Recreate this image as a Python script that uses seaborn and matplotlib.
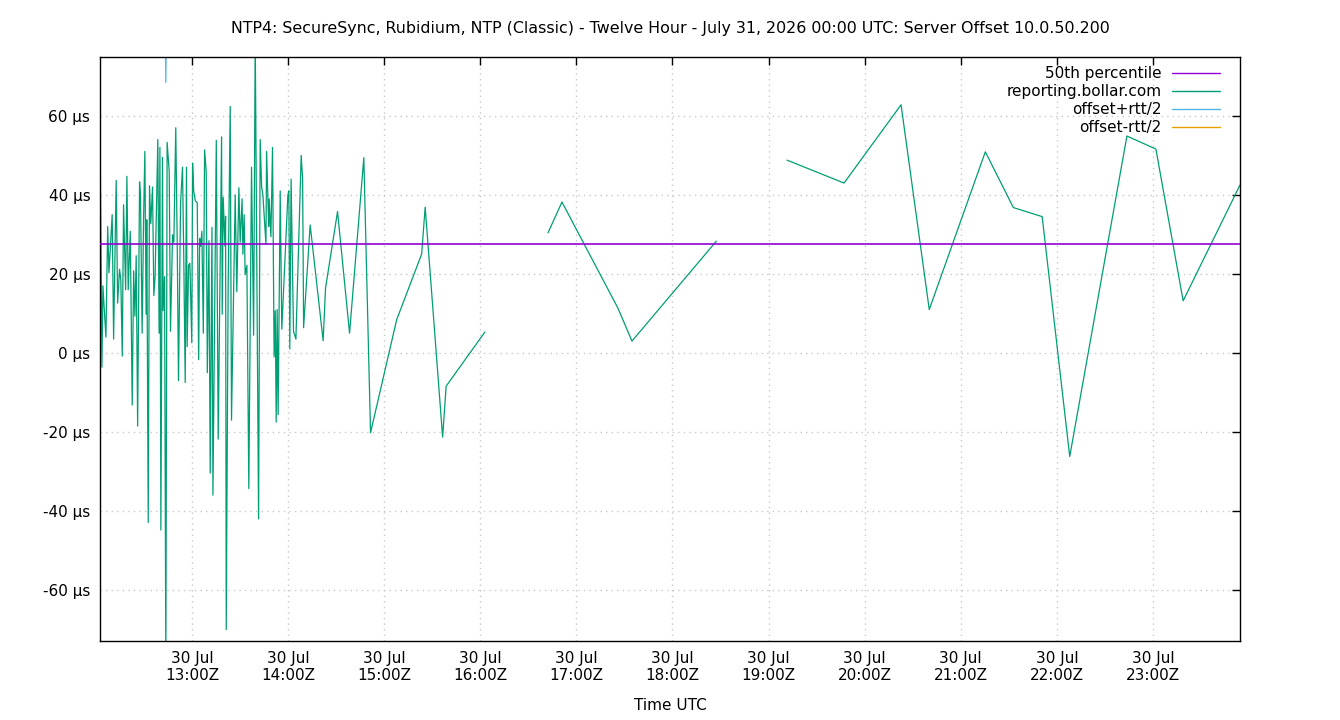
import numpy as np
import pandas as pd
import seaborn as sns
import matplotlib.pyplot as plt
import matplotlib.dates as mdates
from matplotlib.ticker import FuncFormatter

sns.set_style('white')
plt.rcParams['font.family'] = ['DejaVu Sans']
plt.rcParams['text.color'] = 'black'

# minutes after 2026-07-30 12:00 UTC
offset_minutes = [2.6, 3.8, 4.4, 6.3, 7.4, 8.2, 10.2, 11.1, 12.7, 13.6,
                  14.8, 15.6, 16.5, 17.3, 18.6, 19.4, 20.2, 21.5, 22.7, 23.6,
                  24.4, 25.2, 26.1, 27.3, 27.9, 28.9, 29.8, 30.6, 31.4, 31.8,
                  32.7, 33.5, 34.3, 35.4, 36.2, 37.0, 38.7, 39.5, 40.0, 40.6,
                  41.6, 42.0, 42.9, 43.7, 44.5, 45.8, 46.6, 47.9, 48.7, 49.9,
                  50.8, 51.6, 52.9, 54.1, 54.9, 55.8, 56.6, 57.0, 57.9, 58.7,
                  59.9, 60.4, 61.1, 62.1, 63.3, 64.2, 64.8, 65.4, 66.2, 67.1,
                  67.9, 68.9, 69.6, 70.6, 71.4, 72.5, 73.1, 75.2, 76.4, 78.5,
                  78.9, 79.5, 80.6, 81.0, 81.4, 82.6, 83.9, 84.7, 87.0, 88.0,
                  89.3, 90.1, 91.3, 91.8, 92.6, 93.2, 94.3, 95.5, 97.2, 98.5,
                  99.5, 101.6, 102.6, 103.5, 104.3, 106.2, 106.6, 107.9, 108.2, 109.3,
                  110.3, 111.3, 112.0, 112.6, 113.2, 113.8, 115.1, 116.1, 119.9, 120.5,
                  121.1, 121.9, 123.4, 124.9, 128.2, 129.1, 129.7, 133.8, 141.9, 143.4,
                  150.9, 158.4, 167.3, 171.5, 187.8, 203.4, 205.6, 216.5, 218.7, 242.9,
                  282.3, 291.0, 326.0, 334.7, 387.4,
                  431.5, 467.1, 502.7, 520.3, 555.3, 572.8, 590.8, 608.0, 643.7, 661.8,
                  678.8, 714.3]
offset_us = [57.6, -3.6, 17, 4, 32, 20.3, 35, 3.5, 43.7, 12.6,
             21.2, 18.4, -0.8, 37.5, 16, 44.7, 16, 30.8, -13.2, 20.8,
             9.3, 24.6, -18.5, 43.3, 39.4, 5, 33.7, 51, 9.8, 33.7,
             -42.9, 42.3, 32.7, 42, 14.5, 19.3, 54, 5, 52, -44.8,
             49.5, 10.7, 19.3, -80, 53.3, 46, 5.5, 29.9, 28, 57,
             28, -7, 38, 47, 24.1, -7.5, 47, 1.6, 22.2, 22.7,
             2.6, 48, 40.9, 38.5, 38, -1.7, 29, 27, 30.8, 5,
             51.4, 46, -5, 28.4, -30.4, 31.8, -36, 53.8, -21.8, 54.7,
             9.8, 39.4, 27, 34.6, -70, 16.5, 62.4, -17, 40, 15.5,
             41.8, 28, 39, 25, 35, 19.8, 22.2, -34.3, 47, 4.5,
             80, -42, 54, 42, 40, 27.5, 51, 32, 39, 29.4,
             52, -1, 10.7, -17.5, 11, -15.6, 41, 6, 40, 41,
             1, 44, 5.5, 3.5, 50, 44, 6.4, 32.4, 3.1, 16.4,
             35.8, 5, 49.4, -20.2, 8.4, 25, 36.9, -21.3, -8.4, 5.3,
             30.4, 38.2, 11.3, 3.0, 28.3,
             48.8, 43.0, 62.8, 11.0, 50.9, 36.8, 34.5, -26.2, 54.9, 51.6,
             13.2, 42.5]
# the line is broken after these samples (missing data)
break_after = [242.9, 387.4]

plus_minutes = [42.9, 43.7, 44.5]
plus_us = [96, 68.5, 101]

p50_us = 27.6

title = ("NTP4: SecureSync, Rubidium, NTP (Classic) - Twelve Hour - "
         "July 31, 2026 00:00 UTC: Server Offset 10.0.50.200")

base = pd.Timestamp('2026-07-30 12:00')
df = pd.DataFrame({'minute': offset_minutes, 'offset': offset_us})
df['time'] = base + pd.to_timedelta(df['minute'], unit='min')
df['seg'] = sum((df['minute'] > b).astype(int) for b in break_after)
dfp = pd.DataFrame({'time': base + pd.to_timedelta(plus_minutes, unit='min'),
                    'offset': plus_us})

fig = plt.figure(figsize=(13.4, 7.2), dpi=100)
ax = fig.add_axes([100/1340, 1-641/720, 1140/1340, 584/720])

green = '#009e73'
ax.axhline(p50_us, color='#9400d3', lw=1.2, zorder=3)
for _, part in df.groupby('seg'):
    sns.lineplot(data=part, x='time', y='offset', color=green, lw=0.9, ax=ax, zorder=2)
sns.lineplot(data=dfp, x='time', y='offset', color='#56b4e9', lw=0.9, ax=ax, zorder=2)

ax.set_xlim(df['time'].min(), df['time'].max())
ax.set_ylim(-72.9, 74.9)
ax.set_yticks(np.arange(-60, 61, 20))
ax.yaxis.set_major_formatter(FuncFormatter(lambda v, p: f'{v:.0f} µs'))
ax.xaxis.set_major_locator(mdates.HourLocator(byhour=range(13, 24)))
ax.xaxis.set_major_formatter(mdates.DateFormatter('%d %b\n%H:%MZ'))
for lab in ax.get_xticklabels():
    lab.set_horizontalalignment('center')

ax.grid(True, color='#c8c8c8', ls=(0, (1, 3)), lw=1)
ax.tick_params(direction='in', length=6, width=1, top=True, right=True,
               labelsize=11, colors='black', pad=7)
for sp in ax.spines.values():
    sp.set_color('black')
    sp.set_linewidth(1)

ax.set_ylabel('')
ax.set_xlabel('Time UTC', fontsize=11, color='black')
ax.xaxis.set_label_coords(0.5, -0.111)
ax.xaxis.label.set_va('center')

fig.text(0.5, 1-28/720, title, ha='center', va='center', fontsize=11.4, color='black')

handles = [plt.Line2D([], [], color='#9400d3', lw=1),
           plt.Line2D([], [], color=green, lw=1),
           plt.Line2D([], [], color='#56b4e9', lw=1),
           plt.Line2D([], [], color='#e69f00', lw=1)]
labels = ['50th percentile', 'reporting.bollar.com', 'offset+rtt/2', 'offset-rtt/2']
leg = ax.legend(handles, labels, loc='upper right', bbox_to_anchor=(0.9875, 0.995),
                frameon=False, markerfirst=False, fontsize=11, handlelength=3.1,
                handletextpad=0.7, labelspacing=0.2, borderaxespad=0)
for t in leg.get_texts():
    t.set_color('black')

fig.savefig('out.png', dpi=100)
